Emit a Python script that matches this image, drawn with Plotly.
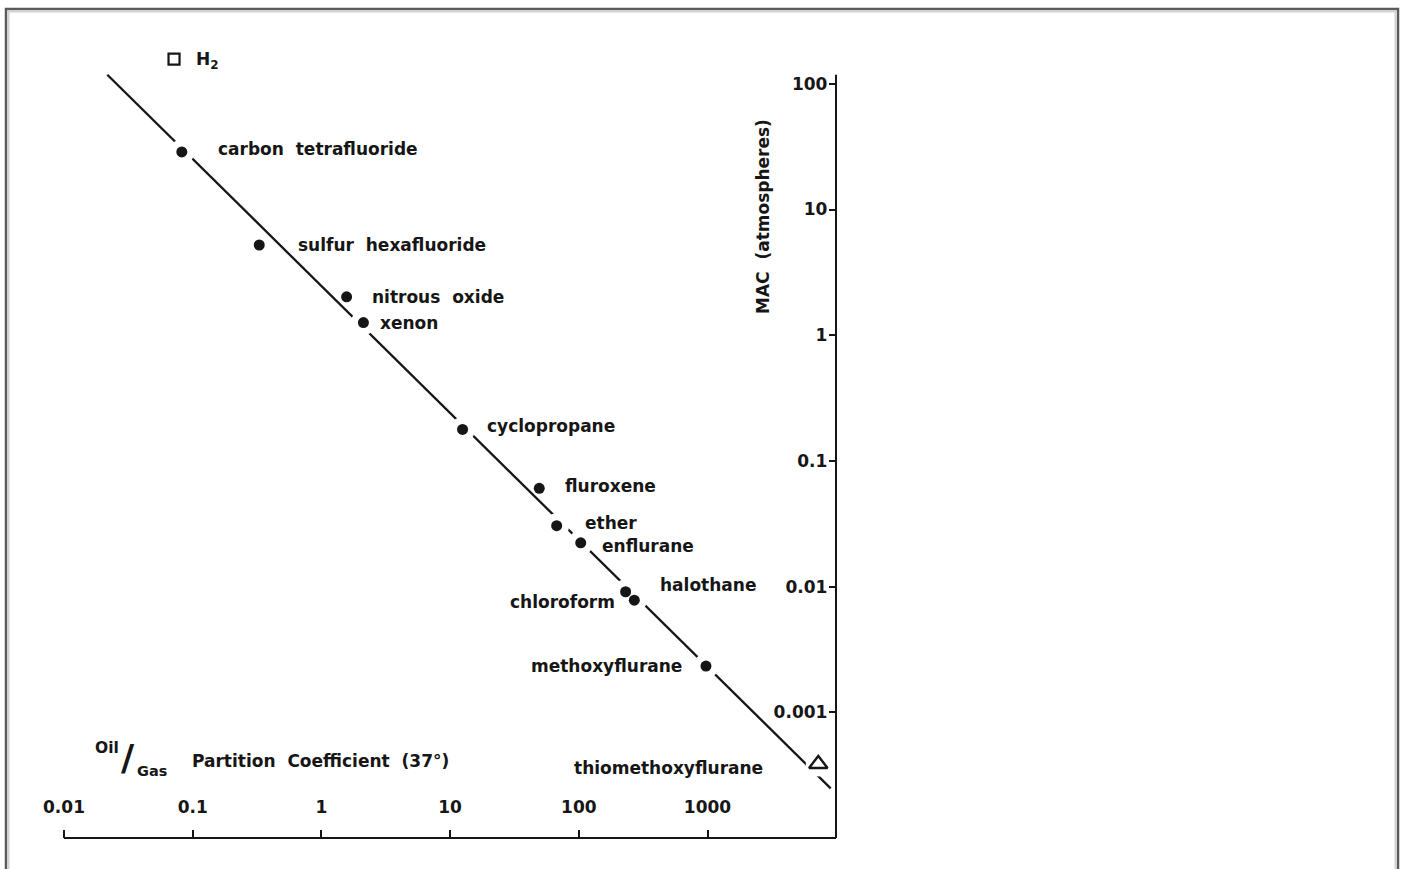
import numpy as np
import plotly.graph_objects as go

# ---------------- data ----------------
agents = ["carbon tetrafluoride", "sulfur hexafluoride", "nitrous oxide", "xenon",
          "cyclopropane", "fluroxene", "ether", "enflurane", "halothane",
          "chloroform", "methoxyflurane"]
oil_gas = [0.0823, 0.329, 1.57, 2.12, 12.5, 49.3, 67.3, 103.5, 231, 270, 973]
mac_atm = [28.7, 5.22, 2.02, 1.26, 0.178, 0.0605, 0.0305, 0.0223, 0.0091, 0.0078, 0.00233]

tri_name = ["thiomethoxyflurane"]
tri_oil_gas = [7260]
tri_mac = [0.000388]

sq_name = ["H<sub>2</sub>"]
sq_oil_gas = [0.0716]
sq_mac = [157]

fit_oil_gas = [0.0217, 9060]
fit_mac = [118, 0.000248]

x_axis_span = [0.01, 10000]
y_axis_span = [0.0001, 118]

x_tick_vals = [0.01, 0.1, 1, 10, 100, 1000]
x_tick_text = ["0.01", "0.1", "1", "10", "100", "1000"]
y_tick_vals = [0.001, 0.01, 0.1, 1, 10, 100]
y_tick_text = ["0.001", "0.01", "0.1", "1", "10", "100"]

# ---------------- style / geometry ----------------
INK = "#161616"
FONT = "DejaVu Sans"
W, H = 1405, 869
X_DEC, Y_DEC = 128.7, 125.7        # px per decade
X0_PX, Y0_PX = 64, 838             # pixel of 0.01 (x) and 0.0001 (y)
L, R_PX = 32, 836
T, B_PX = 40, 838
PW, PH = R_PX - L, B_PX - T
x_range = [-2 - (X0_PX - L) / X_DEC, -2 + (R_PX - X0_PX) / X_DEC]
y_range = [-4 - (B_PX - Y0_PX) / Y_DEC, -4 + (Y0_PX - T) / Y_DEC]
NB = "\u00a0"
LBL = dict(family=FONT, size=17, color=INK, weight="bold")

# label placement: (anchor, dx px, dy px downward)
label_style = {
    "carbon tetrafluoride": ("left", 34, -3),
    "sulfur hexafluoride": ("left", 37, 0),
    "nitrous oxide": ("left", 23, 0),
    "xenon": ("left", 15, 0),
    "cyclopropane": ("left", 22, -3),
    "fluroxene": ("left", 24, -2),
    "ether": ("left", 26, -3),
    "enflurane": ("left", 19, 3),
    "halothane": ("left", 32, -7),
    "chloroform": ("right", -17, 2),
    "methoxyflurane": ("right", -22, 0),
    "thiomethoxyflurane": ("right", -53, 4),
    "H<sub>2</sub>": ("left", 20, 1),
}
# points sitting on the regression line get a white gap in the line
on_line = [True, False, False, True, True, False, True, True, True, True, True]


def px(xp, yp):
    return (xp - L) / PW, (B_PX - yp) / PH


fig = go.Figure()

fig.add_trace(go.Scatter(x=fit_oil_gas, y=fit_mac, mode="lines",
                         line=dict(color=INK, width=2.3), hoverinfo="skip"))

halo_x = [v for v, k in zip(oil_gas, on_line) if k] + tri_oil_gas
halo_y = [v for v, k in zip(mac_atm, on_line) if k] + tri_mac
fig.add_trace(go.Scatter(x=halo_x, y=halo_y, mode="markers",
                         marker=dict(size=25, color="white", line=dict(width=0)),
                         hoverinfo="skip"))

fig.add_trace(go.Scatter(x=oil_gas, y=mac_atm, mode="markers", text=agents,
                         marker=dict(size=11, color=INK, line=dict(width=0))))
fig.add_trace(go.Scatter(x=tri_oil_gas, y=tri_mac, mode="markers", text=tri_name,
                         marker=dict(symbol="triangle-up-open", size=16, color=INK,
                                     line=dict(width=2.4, color=INK))))
fig.add_trace(go.Scatter(x=sq_oil_gas, y=sq_mac, mode="markers", text=sq_name,
                         marker=dict(symbol="square-open", size=11, color=INK,
                                     line=dict(width=2.2, color=INK))))

annotations = []
for names, xs, ys in [(agents, oil_gas, mac_atm), (tri_name, tri_oil_gas, tri_mac),
                      (sq_name, sq_oil_gas, sq_mac)]:
    for n, xv, yv in zip(names, xs, ys):
        anchor, dx, dy = label_style[n]
        annotations.append(dict(
            x=np.log10(xv), y=np.log10(yv), xref="x", yref="y",
            text=n.replace(" ", " " + NB), showarrow=False,
            xanchor=anchor, yanchor="middle", xshift=dx, yshift=-dy, font=LBL))

# y axis title (rotated)
ax, ay = px(763, 217)
annotations.append(dict(x=ax, y=ay, xref="paper", yref="paper",
                        text="MAC" + NB + " (atmospheres)",
                        textangle=-90, showarrow=False, xanchor="center", yanchor="middle",
                        font=LBL))
# x axis title: Oil/Gas Partition Coefficient (37°)
for txt, xp, yp, size, anc in [("Oil", 107, 748, 15.5, "center"),
                               ("/", 128, 757, 36, "center"),
                               ("Gas", 152, 771, 14.5, "center"),
                               ("Partition" + NB + " Coefficient" + NB + " (37°)", 190, 761, 17, "left")]:
    axp, ayp = px(xp, yp)
    annotations.append(dict(x=axp, y=ayp, xref="paper", yref="paper", text=txt,
                            showarrow=False, xanchor=anc, yanchor="middle",
                            font=dict(family=FONT, size=size, color=INK, weight="bold")))

# axis lines (spanning only the scale's extent, like the original)
shapes = [
    dict(type="line", xref="x", yref="paper", x0=x_axis_span[0], x1=x_axis_span[1],
         y0=0, y1=0, line=dict(color=INK, width=2)),
    dict(type="line", xref="paper", yref="y", x0=1, x1=1, y0=y_axis_span[0],
         y1=y_axis_span[1], line=dict(color=INK, width=2)),
]
# scanned-page frame
fx0, fy0 = px(6, 9)
fx1, fy1 = px(1398, 880)
gx0, gy0 = px(8.5, 11.5)
gx1, gy1 = px(1395.5, 880)
shapes += [
    dict(type="rect", xref="paper", yref="paper", x0=fx0, y0=fy1, x1=fx1, y1=fy0,
         line=dict(color="#5a5a5a", width=2.5), layer="above"),
    dict(type="rect", xref="paper", yref="paper", x0=gx0, y0=gy1, x1=gx1, y1=gy0,
         line=dict(color="#d2d2d2", width=2), layer="above"),
]

tickfont = dict(family=FONT, size=17, color=INK, weight="bold")
fig.update_layout(
    width=W, height=H,
    margin=dict(l=L, r=W - R_PX, t=T, b=H - B_PX, pad=0),
    paper_bgcolor="white", plot_bgcolor="white",
    showlegend=False,
    annotations=annotations, shapes=shapes,
    font=dict(family=FONT, size=17, color=INK),
    xaxis=dict(type="log", range=x_range, tickvals=x_tick_vals, ticktext=x_tick_text,
               ticks="inside", ticklen=8, tickwidth=1.6, tickcolor=INK,
               showline=False, showgrid=False, zeroline=False,
               ticklabelposition="inside", ticklabelstandoff=14, tickfont=tickfont),
    yaxis=dict(type="log", range=y_range, side="right", tickvals=y_tick_vals,
               ticktext=y_tick_text, ticks="inside", ticklen=7, tickwidth=1.6, tickcolor=INK,
               showline=False, showgrid=False, zeroline=False,
               ticklabelposition="inside", ticklabelstandoff=2, tickfont=tickfont),
)

fig.write_html("out.html")
